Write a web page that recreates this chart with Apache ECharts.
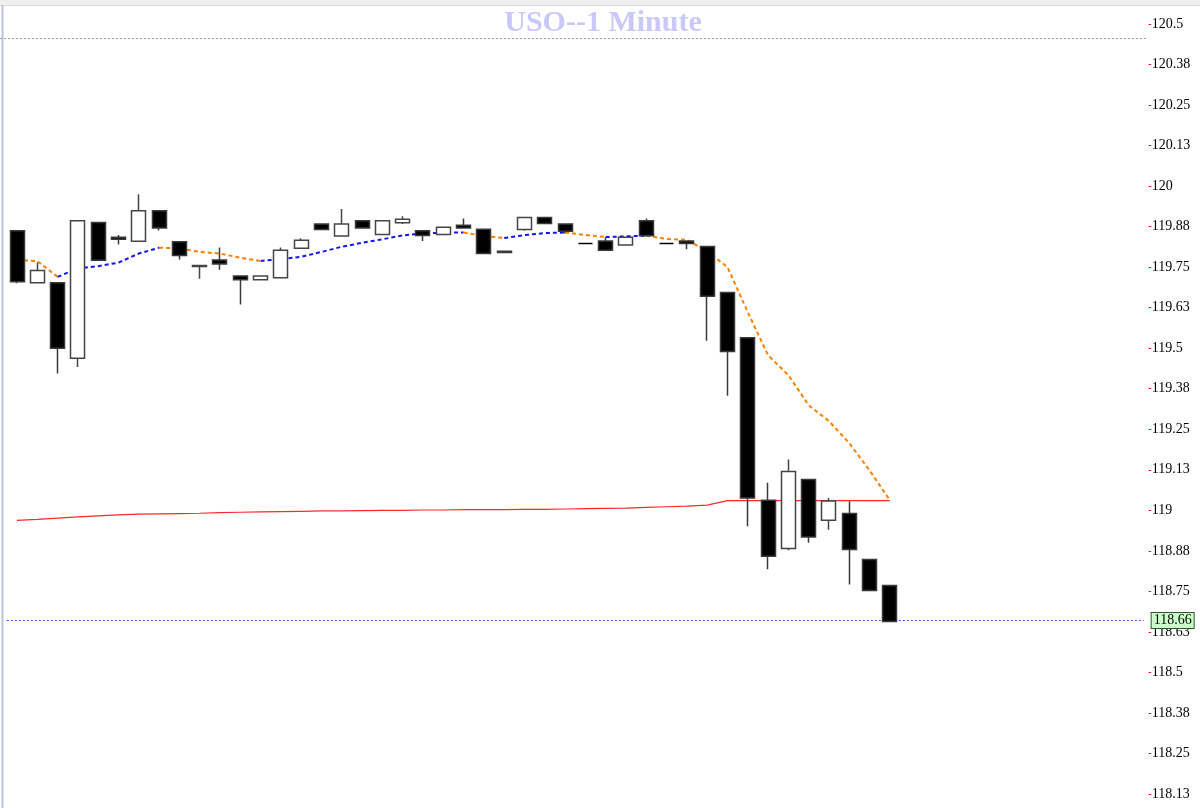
<!DOCTYPE html>
<html><head><meta charset="utf-8">
<script src="https://cdn.jsdelivr.net/npm/echarts@6/dist/echarts.min.js"></script>
<style>html,body{margin:0;padding:0;background:#fff}#c{width:1200px;height:808px}</style>
</head><body><div id="c"></div>
<script>
// ---- data (USO 1-minute) ----
const opens  = [119.862,119.702,119.702,119.469,119.888,119.842,119.830,119.924,119.828,119.752,119.772,119.723,119.711,119.717,119.808,119.883,119.846,119.893,119.851,119.887,119.862,119.851,119.879,119.867,119.799,119.866,119.903,119.883,119.823,119.831,119.818,119.893,119.823,119.831,119.814,119.672,119.532,119.031,118.882,119.095,118.969,118.990,118.848,118.768];
const closes = [119.705,119.740,119.500,119.893,119.771,119.836,119.924,119.871,119.786,119.755,119.760,119.711,119.723,119.802,119.833,119.866,119.883,119.871,119.893,119.898,119.848,119.873,119.871,119.792,119.795,119.903,119.885,119.861,119.823,119.802,119.842,119.847,119.823,119.823,119.660,119.490,119.038,118.858,119.120,118.918,119.029,118.879,118.753,118.657];
const lows   = [119.700,119.700,119.422,119.442,119.771,119.820,119.830,119.863,119.774,119.714,119.742,119.635,119.711,119.717,119.808,119.866,119.846,119.871,119.851,119.883,119.831,119.851,119.871,119.792,119.793,119.862,119.885,119.854,119.823,119.802,119.818,119.847,119.823,119.805,119.523,119.353,118.951,118.818,118.877,118.900,118.940,118.771,118.753,118.657];
const highs  = [119.862,119.764,119.702,119.893,119.888,119.849,119.975,119.924,119.828,119.755,119.811,119.723,119.723,119.811,119.839,119.883,119.929,119.893,119.893,119.907,119.862,119.873,119.900,119.867,119.800,119.903,119.903,119.883,119.823,119.842,119.842,119.900,119.823,119.831,119.814,119.672,119.532,119.085,119.157,119.095,119.038,119.028,118.848,118.768];
const maFast = [119.772,119.769,119.720,119.746,119.753,119.764,119.792,119.810,119.808,119.797,119.792,119.779,119.769,119.775,119.782,119.797,119.813,119.825,119.836,119.848,119.854,119.856,119.857,119.846,119.840,119.849,119.855,119.857,119.849,119.843,119.845,119.847,119.837,119.834,119.799,119.750,119.611,119.478,119.417,119.324,119.275,119.207,119.123,119.031];
const maSlow = [118.969,118.972,118.976,118.980,118.983,118.986,118.988,118.989,118.990,118.991,118.993,118.994,118.995,118.996,118.997,118.998,118.998,118.999,119.000,119.000,119.001,119.001,119.002,119.002,119.002,119.003,119.003,119.004,119.005,119.006,119.007,119.009,119.011,119.013,119.016,119.030,119.030,119.030,119.030,119.030,119.030,119.030,119.030,119.030];
const lastPriceLabel = '118.66';
const titleText = 'USO--1 Minute';
const categories = Array.from({length: 56}, (_, i) => 'm' + (i + 1));

const SERIF = '"Liberation Serif","Times New Roman",serif';
const chart = echarts.init(document.getElementById('c'), null, {renderer: 'canvas'});
const candles = opens.map((o, i) => [o, closes[i], lows[i], highs[i]]);

const runs = [];
for (let i = 1; i < maFast.length; i++) {
  const up = maFast[i] >= maFast[i - 1];
  const last = runs[runs.length - 1];
  if (last && last.up === up) last.end = i; else runs.push({up, start: i - 1, end: i});
}
const runSeries = runs.map(r => ({
  type: 'line',
  data: categories.map((_, i) => (i >= r.start && i <= r.end && i < maFast.length) ? maFast[i] : null),
  symbol: 'none', silent: true, z: 2, connectNulls: false, animation: false,
  lineStyle: {color: r.up ? '#1414ff' : '#ff8000', width: 2, type: [4, 3]}
}));

chart.setOption({
  animation: false,
  backgroundColor: '#ffffff',
  grid: {left: 6.85, width: 1136.8, top: 24, height: 770, containLabel: false},
  xAxis: {type: 'category', data: categories, show: false, boundaryGap: true},
  yAxis: {
    type: 'value', position: 'right', min: 118.125, max: 120.5, interval: 0.125, offset: 5,
    splitLine: {show: false}, axisLine: {show: false},
    axisTick: {show: true, length: 2.5, lineStyle: {color: '#ff1a1a', width: 1}},
    axisLabel: {margin: 3, color: '#000', fontFamily: SERIF, fontSize: 14,
      formatter: v => String(parseFloat(Number(v).toFixed(2)))}
  },
  graphic: [
    {type: 'rect', shape: {x: 0, y: 0, width: 1200, height: 5}, style: {fill: '#f0f0f0'}, silent: true},
    {type: 'line', shape: {x1: 0, y1: 5.5, x2: 1200, y2: 5.5}, style: {stroke: '#dcdcdc', lineWidth: 1}, silent: true},
    {type: 'line', shape: {x1: 2.5, y1: 5, x2: 2.5, y2: 808}, style: {stroke: '#b9c3d6', lineWidth: 2}, silent: true},
    {type: 'line', shape: {x1: 0, y1: 38.5, x2: 1148, y2: 38.5}, style: {stroke: '#a0a0a0', lineWidth: 1, lineDash: [2, 2]}, silent: true},
    {type: 'text', x: 603, y: 23.5, style: {text: titleText, fill: '#c8c8fa', font: 'bold 30px ' + SERIF, textAlign: 'center', textVerticalAlign: 'middle'}, silent: true}
  ],
  series: [
    {type: 'line', data: maSlow, symbol: 'none', silent: true, z: 2,
      lineStyle: {color: '#ff2a2a', width: 1.2}},
    ...runSeries,
    {type: 'candlestick', data: candles, z: 5, barWidth: 14.5,
      itemStyle: {color: '#ffffff', color0: '#000000', borderColor: '#454545', borderColor0: '#3a3a3a',
        borderColorDoji: '#000000', borderWidth: 1.5},
      markLine: {
        symbol: 'none', silent: true, animation: false,
        data: [{yAxis: closes[closes.length - 1]}],
        lineStyle: {type: [2, 2], color: '#4a4ad8', width: 1},
        label: {position: 'end', formatter: lastPriceLabel, distance: 8, color: '#000',
          fontFamily: SERIF, fontSize: 14, backgroundColor: '#ccffcc', borderColor: '#2a5a2a',
          borderWidth: 1, padding: [1, 2, 0, 2]}
      }}
  ]
});
</script></body></html>
